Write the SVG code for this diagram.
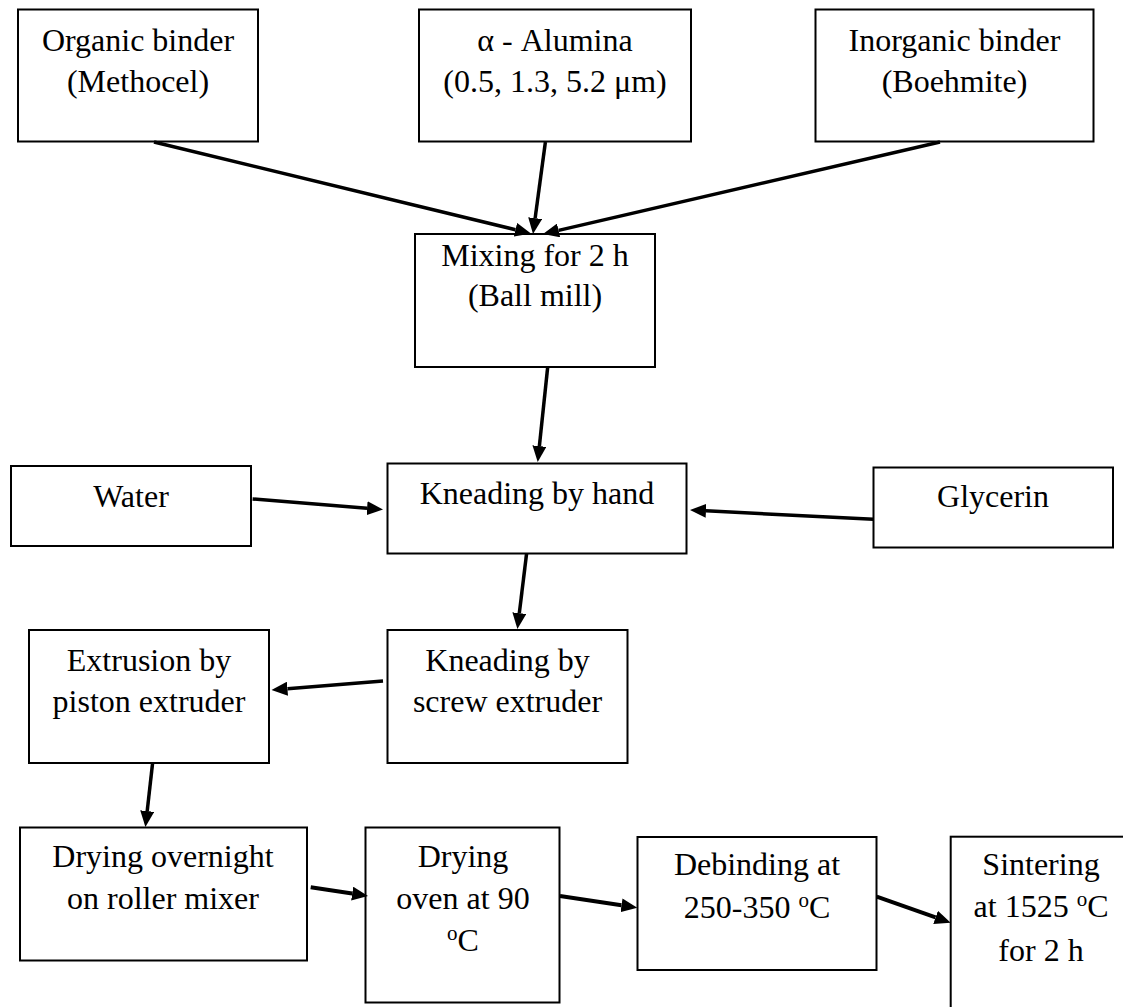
<svg xmlns="http://www.w3.org/2000/svg" width="1123" height="1007" viewBox="0 0 1123 1007">
<style>
.box{fill:#fff;stroke:#000;stroke-width:2}
.t{font-size:32px;fill:#000;text-anchor:middle}
.c{fill:none;stroke:#000;stroke-width:3.5;marker-end:url(#ah)}
.c4{stroke-width:4}
.sup{font-size:21px}
</style>
<defs>
<marker id="ah" viewBox="0 -7 16 14" refX="0" refY="0" markerWidth="16" markerHeight="14" markerUnits="userSpaceOnUse" orient="auto">
<path d="M0,-7 L16,0 L0,7 z" fill="#000"/>
</marker>
</defs>
<rect width="1123" height="1007" fill="#fff"/>
<g font-family="Liberation Serif, Tinos, Times New Roman, DejaVu Serif, serif">
<g id="organic"><rect class="box" x="18" y="9.5" width="240" height="132"/><text class="t" x="138" y="50.5">Organic binder</text><text class="t" x="138" y="92">(Methocel)</text></g>
<g id="alumina"><rect class="box" x="419" y="9.5" width="272" height="132"/><text class="t" x="555" y="50.5">α - Alumina</text><text class="t" x="555" y="92">(0.5, 1.3, 5.2 μm)</text></g>
<g id="inorganic"><rect class="box" x="815.5" y="9.5" width="278" height="132"/><text class="t" x="954.5" y="50.5">Inorganic binder</text><text class="t" x="954.5" y="92">(Boehmite)</text></g>
<g id="mixing"><rect class="box" x="415" y="234" width="240" height="133"/><text class="t" x="535" y="265.5">Mixing for 2 h</text><text class="t" x="535" y="306">(Ball mill)</text></g>
<g id="water"><rect class="box" x="11" y="466" width="240" height="80"/><text class="t" x="131" y="506.5">Water</text></g>
<g id="hand"><rect class="box" x="387.5" y="463.5" width="299" height="90"/><text class="t" x="537" y="504">Kneading by hand</text></g>
<g id="glycerin"><rect class="box" x="873.5" y="467.5" width="239.5" height="80"/><text class="t" x="993" y="507">Glycerin</text></g>
<g id="screw"><rect class="box" x="387.5" y="630" width="240" height="133"/><text class="t" x="507.5" y="671">Kneading by</text><text class="t" x="507.5" y="712">screw extruder</text></g>
<g id="extrusion"><rect class="box" x="29" y="630" width="240" height="133"/><text class="t" x="149" y="671">Extrusion by</text><text class="t" x="149" y="712">piston extruder</text></g>
<g id="drying-roller"><rect class="box" x="20" y="827.5" width="287" height="133"/><text class="t" x="163" y="867">Drying overnight</text><text class="t" x="163" y="909">on roller mixer</text></g>
<g id="drying-oven"><rect class="box" x="365.5" y="827.5" width="194" height="175"/><text class="t" x="463" y="867">Drying</text><text class="t" x="463" y="908.5">oven at 90</text><text class="t" x="463" y="950.5"><tspan class="sup" dy="-11">o</tspan><tspan dy="11">C</tspan></text></g>
<g id="debinding"><rect class="box" x="637.5" y="837" width="239" height="133"/><text class="t" x="757" y="875">Debinding at</text><text class="t" x="757" y="918">250-350 <tspan class="sup" dy="-11">o</tspan><tspan dy="11">C</tspan></text></g>
<g id="sintering"><rect class="box" x="950.7" y="836.7" width="200" height="200"/><text class="t" x="1041" y="875">Sintering</text><text class="t" x="1041" y="917">at 1525 <tspan class="sup" dy="-11">o</tspan><tspan dy="11">C</tspan></text><text class="t" x="1041" y="961">for 2 h</text></g>
</g>
<g id="connectors">
<line class="c" x1="154" y1="142" x2="515.45" y2="229.73"/>
<line class="c" x1="545.4" y1="142" x2="535.14" y2="218.14"/>
<line class="c" x1="940" y1="142" x2="558.59" y2="230.39"/>
<line class="c" x1="547.7" y1="367" x2="539.38" y2="446.09"/>
<line class="c" x1="252.6" y1="499" x2="367.05" y2="508.22"/>
<line class="c" x1="873.5" y1="519.3" x2="705.98" y2="510.81"/>
<line class="c" x1="526.6" y1="553.5" x2="519.33" y2="613.12"/>
<line class="c" x1="383" y1="681" x2="287.44" y2="688.71"/>
<line class="c" x1="152.6" y1="763" x2="147.19" y2="811.1"/>
<line class="c c4" x1="310.7" y1="887.3" x2="352.18" y2="893.6"/>
<line class="c c4" x1="560" y1="896" x2="621.48" y2="905.3"/>
<line class="c c4" x1="876.7" y1="896.7" x2="935.6" y2="917.4"/>
</g>
</svg>
